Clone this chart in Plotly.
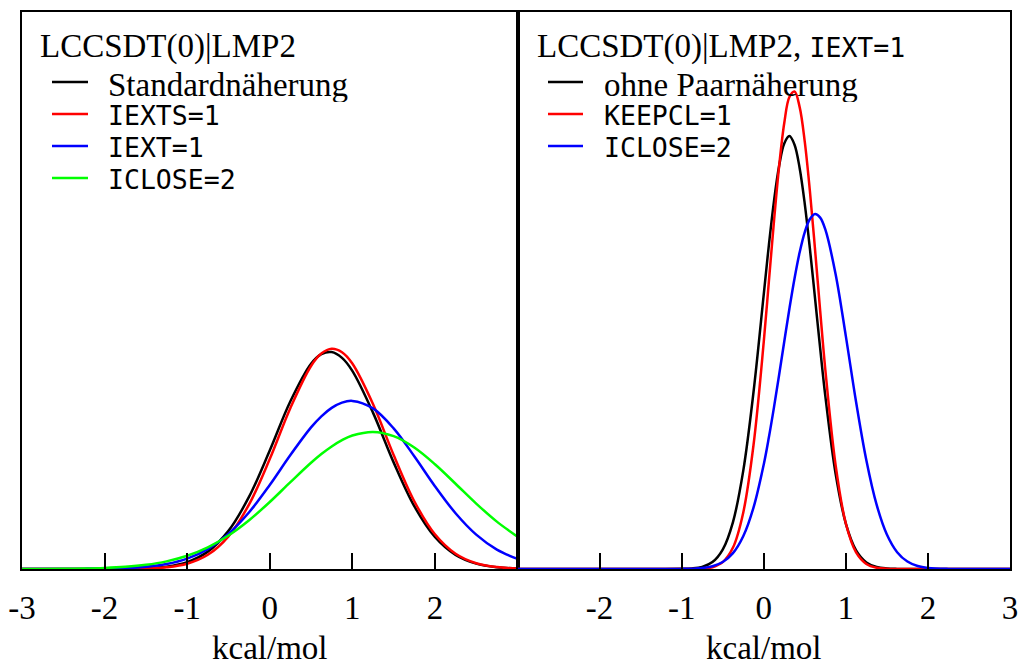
import plotly.graph_objects as go

# ---------------- data ----------------
x_left = [-3, -2.75, -2.5, -2.25, -2, -1.75, -1.5, -1.25, -1, -0.75, -0.5, -0.25,
          0, 0.25, 0.5, 0.625, 0.75, 0.875, 1, 1.25, 1.5, 1.75, 2, 2.25, 2.5, 2.75, 3]
left_standard = [0, 0, 0, 0, 0.0001, 0.0005, 0.0019, 0.0065, 0.0192, 0.0488, 0.1071, 0.2031,
                 0.3328, 0.4712, 0.5765, 0.6036, 0.6094, 0.5931, 0.5566, 0.4393, 0.2995, 0.1765,
                 0.0899, 0.0395, 0.0150, 0.0049, 0.0014]
left_iexts = [0, 0, 0, 0, 0.0001, 0.0003, 0.0013, 0.0048, 0.0149, 0.0399, 0.0918, 0.1815,
              0.3089, 0.4525, 0.5703, 0.6051, 0.6184, 0.6087, 0.5771, 0.4635, 0.3203, 0.1904,
              0.0975, 0.0429, 0.0162, 0.0053, 0.0015]
left_iext = [0, 0, 0.0001, 0.0003, 0.0009, 0.0024, 0.0060, 0.0138, 0.0291, 0.0560, 0.0987, 0.1594,
             0.2360, 0.3201, 0.3977, 0.4289, 0.4527, 0.4674, 0.4721, 0.4511, 0.3949, 0.3167,
             0.2327, 0.1567, 0.0966, 0.0546, 0.0283]
left_iclose = [0.0001, 0.0002, 0.0006, 0.0013, 0.0029, 0.0060, 0.0117, 0.0215, 0.0372, 0.0609,
               0.0940, 0.1369, 0.1882, 0.2440, 0.2984, 0.3229, 0.3443, 0.3619, 0.3749, 0.3851,
               0.3732, 0.3412, 0.2942, 0.2395, 0.1838, 0.1331, 0.0910]

x_right = [-3, -2.5, -2, -1.5, -1.25, -1, -0.875, -0.75, -0.625, -0.5, -0.375, -0.25, -0.125,
           0, 0.0625, 0.125, 0.1875, 0.25, 0.3125, 0.375, 0.4375, 0.5, 0.5625, 0.625, 0.6875,
           0.75, 0.875, 1, 1.125, 1.25, 1.375, 1.5, 1.625, 1.75, 1.875, 2, 2.25, 2.5, 3]
right_ohne = [0, 0, 0, 0, 0, 0.0004, 0.0016, 0.0060, 0.0194, 0.0545, 0.1319, 0.2756, 0.4965,
              0.7716, 0.9099, 1.0341, 1.1326, 1.1955, 1.2160, 1.1919, 1.1259, 1.0250, 0.8992,
              0.7602, 0.6194, 0.4863, 0.2684, 0.1277, 0.0524, 0.0186, 0.0057, 0.0015, 0.0003,
              0.0001, 0, 0, 0, 0, 0]
right_keepcl = [0, 0, 0, 0, 0, 0, 0.0002, 0.0011, 0.0051, 0.0192, 0.0602, 0.1583, 0.3477,
                0.6378, 0.8077, 0.9778, 1.1320, 1.2528, 1.3257, 1.3413, 1.2975, 1.2000, 1.0611,
                0.8971, 0.7252, 0.5604, 0.2926, 0.1277, 0.0465, 0.0142, 0.0036, 0.0008, 0.0001,
                0, 0, 0, 0, 0, 0]
right_iclose = [0, 0, 0, 0, 0, 0.0003, 0.0009, 0.0028, 0.0078, 0.0196, 0.0445, 0.0919, 0.1724,
                0.2938, 0.3699, 0.4547, 0.5457, 0.6392, 0.7310, 0.8161, 0.8895, 0.9465, 0.9831,
                0.9970, 0.9869, 0.9537, 0.8288, 0.6541, 0.4689, 0.3053, 0.1806, 0.0970, 0.0473,
                0.0210, 0.0084, 0.0031, 0.0003, 0, 0]

left_names = ["Standardnäherung", "IEXTS=1", "IEXT=1", "ICLOSE=2"]
right_names = ["ohne Paarnäherung", "KEEPCL=1", "ICLOSE=2"]
left_ticks = [-3, -2, -1, 0, 1, 2]
right_ticks = [-2, -1, 0, 1, 2, 3]
x_title = "kcal/mol"
left_title = "LCCSDT(0)|LMP2"
right_title_main = "LCCSDT(0)|LMP2, "
right_title_code = "IEXT=1"

# ---------------- styling ----------------
SERIF = "Liberation Serif"
MONO = "DejaVu Sans Mono"
SERIF_SIZE = 33
MONO_SIZE = 26.5
W, H = 1027, 666
ML, MR, MT, MB = 22, 17, 12, 97
PLOT_W = W - ML - MR
PLOT_H = H - MT - MB
SPLIT = (517.5 - ML) / PLOT_W
Y_MAX = PLOT_H / 356.0

colors_left = ["#000000", "#ff0000", "#0000ff", "#00ff00"]
colors_right = ["#000000", "#ff0000", "#0000ff"]


def paper(xp, yp):
    return (xp - ML) / PLOT_W, (H - MB - yp) / PLOT_H


fig = go.Figure()
for ys, name, col in zip([left_standard, left_iexts, left_iext, left_iclose], left_names, colors_left):
    fig.add_trace(go.Scatter(x=x_left, y=ys, name=name, mode="lines",
                             line=dict(color=col, width=2.5, shape="spline"),
                             xaxis="x", yaxis="y", showlegend=False))
for ys, name, col in zip([right_ohne, right_keepcl, right_iclose], right_names, colors_right):
    fig.add_trace(go.Scatter(x=x_right, y=ys, name=name, mode="lines",
                             line=dict(color=col, width=2.5, shape="spline"),
                             xaxis="x2", yaxis="y2", showlegend=False))

axis_common = dict(showline=True, linecolor="black", linewidth=2, mirror=True,
                   showgrid=False, zeroline=False, automargin=False)
xcommon = dict(axis_common, range=[-3, 3], ticks="inside", ticklen=16, tickwidth=2,
               tickcolor="black", tickfont=dict(family=SERIF, size=SERIF_SIZE, color="black"),
               ticklabelstandoff=8,
               title=dict(text=x_title, font=dict(family=SERIF, size=SERIF_SIZE, color="black"),
                          standoff=16))
fig.update_layout(
    width=W, height=H,
    margin=dict(l=ML, r=MR, t=MT, b=MB, autoexpand=False),
    paper_bgcolor="white", plot_bgcolor="white",
    xaxis=dict(xcommon, domain=[0, SPLIT], anchor="y",
               tickvals=left_ticks, ticktext=[str(v) for v in left_ticks]),
    xaxis2=dict(xcommon, domain=[SPLIT, 1], anchor="y2",
                tickvals=right_ticks, ticktext=[str(v) for v in right_ticks]),
    yaxis=dict(axis_common, range=[0, Y_MAX], showticklabels=False, ticks="", anchor="x"),
    yaxis2=dict(axis_common, range=[0, Y_MAX], showticklabels=False, ticks="", anchor="x2"),
)

annotations = []
shapes = []
# panel titles
tx, ty = paper(38, 46)
annotations.append(dict(x=tx, y=ty, xref="paper", yref="paper", xanchor="left", yanchor="middle",
                        text=left_title, showarrow=False,
                        font=dict(family=SERIF, size=SERIF_SIZE, color="black")))
tx, ty = paper(535, 46)
annotations.append(dict(x=tx, y=ty, xref="paper", yref="paper", xanchor="left", yanchor="middle",
                        text=right_title_main + '<span style="font-family:' + MONO + ';font-size:'
                        + str(MONO_SIZE) + 'px">' + right_title_code + "</span>",
                        showarrow=False,
                        font=dict(family=SERIF, size=SERIF_SIZE, color="black")))


def legend(names, colors, line_x0, line_x1, text_x, rows_y):
    for i, (nm, col) in enumerate(zip(names, colors)):
        yrow = rows_y[i]
        x0, y0 = paper(line_x0, yrow)
        x1, _ = paper(line_x1, yrow)
        shapes.append(dict(type="line", xref="paper", yref="paper", x0=x0, x1=x1, y0=y0, y1=y0,
                           line=dict(color=col, width=2.5)))
        is_serif = i == 0
        tx, ty = paper(text_x, yrow + (3 if is_serif else 1))
        annotations.append(dict(x=tx, y=ty, xref="paper", yref="paper", xanchor="left",
                                yanchor="middle", text=nm, showarrow=False,
                                height=34 if is_serif else 26,
                                font=dict(family=SERIF if is_serif else MONO,
                                          size=SERIF_SIZE if is_serif else MONO_SIZE,
                                          color="black")))


legend(left_names, colors_left, 52, 88, 106, [82, 114, 146, 178])
legend(right_names, colors_right, 548, 583, 602, [82, 114, 146])

fig.update_layout(annotations=annotations, shapes=shapes)
fig.write_html("out.html", config={"displayModeBar": False},
               post_script="document.body.style.margin='0px';document.body.style.padding='0px';")
